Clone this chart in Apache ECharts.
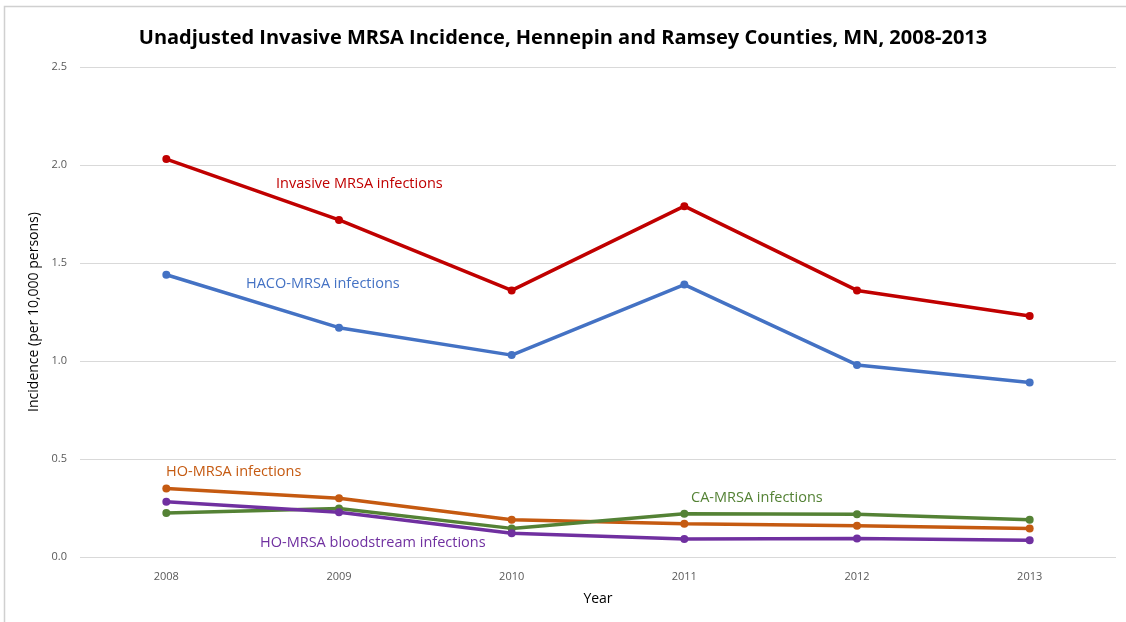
<!DOCTYPE html>
<html>
<head>
<meta charset="utf-8">
<script src="https://cdn.jsdelivr.net/npm/echarts@6/dist/echarts.min.js"></script>
<style>
  html, body { margin: 0; padding: 0; background: #fff; }
  #main { width: 1126px; height: 622px; }
</style>
</head>
<body>
<div id="main"></div>
<script>
// data
const years = ['2008', '2009', '2010', '2011', '2012', '2013'];
const invasive = [2.03, 1.72, 1.36, 1.79, 1.36, 1.23];
const haco = [1.44, 1.17, 1.03, 1.39, 0.98, 0.89];
const hoMrsa = [0.35, 0.30, 0.19, 0.17, 0.16, 0.145];
const caMrsa = [0.225, 0.248, 0.146, 0.221, 0.218, 0.19];
const hoBlood = [0.282, 0.228, 0.121, 0.092, 0.095, 0.085];

const font = '"Open Sans", "Liberation Sans", sans-serif';

function lineSeries(name, data, color) {
  return {
    name: name,
    type: 'line',
    data: data,
    symbol: 'circle',
    symbolSize: 8,
    lineStyle: { width: 3.5, color: color },
    itemStyle: { color: color },
    z: 3
  };
}

// in-plot series labels (x = left edge, y = vertical centre)
function tag(text, x, y, color) {
  return {
    type: 'text',
    left: x,
    top: y - 7,
    style: {
      text: text,
      fill: color,
      font: '14.5px ' + font
    }
  };
}

const chart = echarts.init(document.getElementById('main'));
chart.setOption({
  backgroundColor: '#fff',
  animation: false,
  title: {
    text: 'Unadjusted Invasive MRSA Incidence, Hennepin and Ramsey Counties, MN, 2008-2013',
    left: 'center',
    top: 23,
    textStyle: { fontFamily: font, fontSize: 20, fontWeight: 'bold', color: '#000' }
  },
  grid: { left: 80, right: 10, top: 67, bottom: 65 },
  xAxis: {
    type: 'category',
    data: years,
    name: 'Year',
    nameLocation: 'middle',
    nameGap: 35,
    nameTextStyle: { fontFamily: font, fontSize: 14, color: '#000' },
    axisLine: { show: false },
    axisTick: { show: false },
    axisLabel: { fontFamily: font, fontSize: 11, color: '#595959', margin: 14 }
  },
  yAxis: {
    type: 'value',
    min: 0,
    max: 2.5,
    interval: 0.5,
    name: 'Incidence (per 10,000 persons)',
    nameLocation: 'middle',
    nameGap: 36,
    nameTextStyle: { fontFamily: font, fontSize: 14, color: '#000' },
    axisLabel: {
      fontFamily: font, fontSize: 11, color: '#595959', margin: 13,
      formatter: v => v.toFixed(1)
    },
    splitLine: { lineStyle: { color: '#d9d9d9', width: 1 } }
  },
  series: [
    lineSeries('Invasive MRSA infections', invasive, '#C00000'),
    lineSeries('HACO-MRSA infections', haco, '#4472C4'),
    lineSeries('HO-MRSA infections', hoMrsa, '#C55A11'),
    lineSeries('CA-MRSA infections', caMrsa, '#548235'),
    lineSeries('HO-MRSA bloodstream infections', hoBlood, '#7030A0')
  ],
  graphic: [
    {
      type: 'rect',
      shape: { x: 4.5, y: 6.5, width: 1140, height: 640 },
      style: { fill: 'none', stroke: '#d0d0d0', lineWidth: 1.5 },
      silent: true
    },
    tag('Invasive MRSA infections', 276, 183, '#C00000'),
    tag('HACO-MRSA infections', 246, 283, '#4472C4'),
    tag('HO-MRSA infections', 166, 471, '#C55A11'),
    tag('CA-MRSA infections', 691, 497, '#548235'),
    tag('HO-MRSA bloodstream infections', 260, 542, '#7030A0')
  ]
});
</script>
</body>
</html>
